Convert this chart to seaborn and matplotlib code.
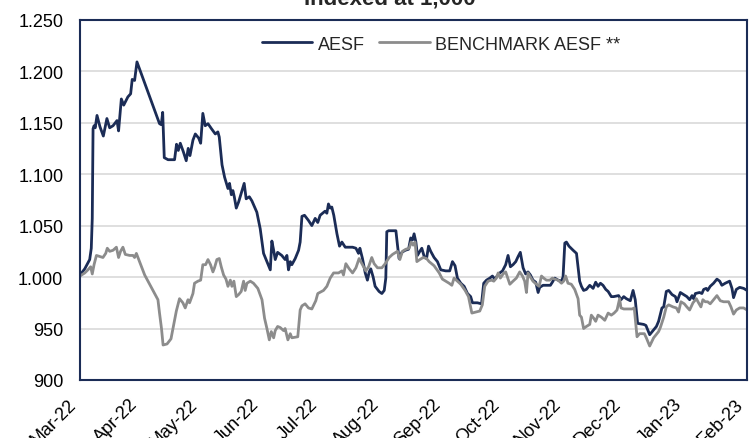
import pandas as pd
import matplotlib.pyplot as plt
import matplotlib.dates as mdates
from matplotlib.ticker import FuncFormatter
import seaborn as sns

# Data: days after start date and index level
start_date = '2022-03-01'
end_day = 337.2

aesf_day = [0, 2.4, 4.9, 5.7, 6.2, 6.6, 7.1, 7.7, 8.6, 10.1, 11.8, 13.6, 15.0, 16.7, 18.7, 19.5,
            20.9, 22.1, 24.2, 25.6, 26.4, 27.6, 28.8, 40.2, 41.1, 41.8, 42.6, 44.5, 47.8, 48.8,
            49.7, 50.7, 52.2, 53.7, 54.7, 55.6, 57.1, 58.3, 60.0, 61.0, 62.1, 63.3, 64.7, 66.5,
            68.4, 69.7, 70.4, 71.8, 73.1, 74.8, 75.6, 76.5, 77.3, 78.0, 79.0, 80.2, 83.0, 84.0,
            85.6, 86.9, 89.4, 91.1, 92.8, 94.5, 96.2, 97.0, 97.9, 98.7, 99.9, 102.0, 103.7,
            104.6, 105.4, 106.3, 107.1, 108.8, 110.5, 111.3, 112.2, 113.5, 115.5, 117.2, 118.9,
            120.2, 121.4, 123.9, 124.8, 125.6, 126.5, 127.3, 128.3, 129.9, 131.2, 132.4, 134.1,
            137.8, 139.5, 140.8, 141.5, 142.8, 144.2, 145.3, 146.2, 147.0, 148.2, 149.2, 151.2,
            152.6, 153.8, 154.6, 155.1, 156.0, 159.7, 160.5, 161.3, 162.7, 164.4, 166.1, 167.2,
            168.1, 168.9, 169.8, 170.6, 171.8, 172.8, 174.0, 175.2, 176.2, 177.3, 179.0, 180.7,
            182.4, 184.9, 186.9, 188.3, 189.6, 190.8, 192.5, 194.2, 195.9, 197.5, 198.4, 200.9,
            203.0, 204.1, 205.5, 207.2, 208.5, 209.7, 210.9, 212.2, 213.6, 215.2, 216.4, 217.6,
            218.9, 220.3, 221.5, 222.6, 224.0, 225.3, 226.5, 227.7, 229.0, 230.4, 231.6, 232.4,
            234.1, 237.8, 238.8, 240.0, 241.7, 243.4, 244.2, 245.1, 245.9, 247.2, 249.3, 251.0,
            252.6, 253.5, 254.6, 256.0, 257.7, 259.4, 260.7, 261.9, 263.1, 264.4, 265.8, 267.0,
            268.6, 269.8, 272.3, 273.5, 274.9, 276.2, 278.2, 279.6, 280.7, 281.9, 285.0, 286.1,
            288.0, 289.7, 291.4, 292.5, 294.2, 295.1, 296.4, 297.6, 299.3, 301.0, 301.8, 303.5,
            305.2, 306.8, 308.2, 309.4, 310.2, 311.1, 313.2, 314.4, 315.3, 316.6, 317.3, 318.6,
            320.3, 322.0, 323.4, 324.5, 326.2, 328.4, 329.6, 330.4, 331.8, 333.5, 335.5, 337.2]
aesf_value = [1002, 1008, 1017, 1028, 1057, 1144, 1147, 1145, 1157, 1146, 1137, 1154, 1145, 1147,
              1152, 1142, 1173, 1167, 1175, 1178, 1192, 1191, 1209, 1149, 1148, 1160, 1116, 1114,
              1114, 1129, 1123, 1130, 1122, 1113, 1125, 1118, 1133, 1139, 1135, 1130, 1159, 1147,
              1149, 1144, 1139, 1141, 1136, 1109, 1097, 1086, 1091, 1080, 1084, 1078, 1067, 1073,
              1091, 1076, 1078, 1074, 1063, 1047, 1023, 1015, 1007, 1035, 1026, 1017, 1024, 1021,
              1017, 1021, 1007, 1015, 1012, 1018, 1026, 1034, 1059, 1060, 1055, 1050, 1057, 1053,
              1060, 1064, 1062, 1071, 1067, 1068, 1060, 1042, 1030, 1034, 1029, 1029, 1028, 1023,
              1028, 1018, 1004, 997, 1005, 1008, 1000, 991, 986, 984, 987, 999, 1044, 1045, 1045,
              1031, 1018, 1024, 1026, 1027, 1038, 1036, 1042, 1034, 1021, 1025, 1028, 1020, 1018,
              1030, 1025, 1019, 1015, 1007, 1006, 1006, 1015, 1011, 999, 994, 991, 984, 981, 975,
              975, 974, 994, 997, 999, 1001, 998, 1001, 1004, 1006, 1012, 1021, 1010, 1012, 1015,
              1020, 1024, 1009, 1003, 1005, 1002, 997, 995, 985, 990, 992, 992, 995, 999, 997,
              996, 1000, 1033, 1034, 1030, 1026, 1023, 996, 991, 987, 988, 992, 989, 995, 991,
              994, 992, 988, 986, 981, 981, 982, 978, 981, 979, 977, 987, 978, 955, 954, 953,
              944, 948, 952, 957, 970, 971, 986, 987, 983, 981, 976, 985, 983, 981, 978, 982,
              979, 984, 985, 984, 988, 989, 987, 991, 994, 998, 996, 992, 994, 996, 989, 980,
              988, 990, 989, 987]

bench_day = [0, 2.4, 4.0, 5.4, 6.2, 7.1, 8.3, 9.9, 11.6, 13.0, 13.8, 15.0, 16.7, 18.4, 19.5, 20.5,
             21.7, 22.9, 25.1, 26.8, 27.6, 28.5, 29.3, 32.7, 39.4, 40.2, 41.2, 42.0, 44.0, 46.0,
             47.5, 48.7, 50.3, 52.0, 53.2, 54.6, 55.4, 57.1, 57.9, 59.6, 61.0, 62.1, 63.5, 64.7,
             66.0, 67.2, 68.0, 69.2, 70.4, 71.4, 72.6, 73.8, 74.8, 76.0, 76.8, 77.8, 79.0, 80.2,
             81.5, 82.7, 83.5, 84.4, 85.2, 86.1, 87.7, 89.9, 92.0, 93.3, 94.5, 95.7, 96.7, 97.9,
             98.7, 99.9, 101.2, 102.9, 103.7, 105.1, 106.3, 107.1, 110.1, 111.3, 112.2, 113.8,
             115.5, 117.2, 119.2, 120.2, 123.1, 124.8, 126.5, 128.2, 130.7, 132.4, 133.2, 134.4,
             136.1, 137.8, 139.5, 141.1, 142.8, 144.5, 145.9, 147.5, 148.7, 150.4, 152.6, 154.3,
             156.3, 158.0, 160.5, 161.7, 163.0, 164.7, 166.4, 167.4, 168.4, 169.4, 170.3, 171.8,
             173.5, 175.2, 176.5, 179.0, 181.6, 183.2, 184.9, 186.6, 188.0, 189.1, 190.8, 192.5,
             194.7, 196.4, 198.1, 200.1, 202.1, 203.4, 204.6, 206.3, 208.0, 209.2, 210.5, 211.4,
             212.5, 213.9, 215.2, 217.3, 218.9, 220.6, 222.3, 223.7, 224.8, 225.7, 226.5, 227.7,
             229.0, 230.7, 232.1, 233.3, 234.4, 235.8, 237.5, 238.8, 240.0, 241.7, 243.4, 244.5,
             245.5, 246.7, 248.4, 250.1, 251.8, 252.6, 253.5, 254.6, 256.0, 257.7, 258.5, 259.7,
             260.7, 261.9, 263.6, 265.3, 267.0, 268.6, 270.0, 271.5, 272.8, 273.5, 274.9, 277.4,
             279.1, 280.2, 281.6, 282.9, 285.3, 286.3, 288.0, 290.0, 292.5, 293.4, 295.1, 296.4,
             297.6, 299.8, 301.5, 302.6, 303.8, 305.5, 306.8, 308.2, 309.9, 311.6, 312.7, 313.9,
             314.9, 316.1, 317.3, 318.6, 320.3, 322.0, 323.7, 325.4, 327.9, 329.1, 330.4, 331.8,
             333.5, 335.5, 337.2]
bench_value = [1001, 1004, 1007, 1010, 1003, 1012, 1021, 1020, 1019, 1023, 1028, 1025, 1026, 1029,
               1019, 1025, 1029, 1022, 1021, 1021, 1019, 1023, 1019, 1002, 978, 965, 950, 934,
               935, 940, 955, 967, 979, 975, 970, 978, 975, 984, 994, 996, 997, 1012, 1012, 1017,
               1012, 1005, 1009, 1017, 1018, 1010, 1002, 998, 991, 997, 991, 996, 981, 983, 986,
               996, 987, 994, 995, 996, 994, 989, 978, 960, 950, 939, 947, 941, 948, 952, 951,
               948, 950, 939, 945, 941, 942, 968, 972, 974, 970, 969, 977, 984, 987, 991, 999,
               1004, 1004, 1006, 1002, 1013, 1008, 1004, 1009, 1018, 1012, 1006, 1010, 1019, 1013,
               1009, 1009, 1013, 1019, 1022, 1025, 1017, 1025, 1027, 1028, 1034, 1031, 1034, 1015,
               1017, 1019, 1018, 1015, 1011, 1004, 998, 996, 994, 992, 999, 996, 993, 987, 981,
               965, 966, 967, 973, 991, 996, 997, 996, 999, 1004, 999, 1003, 1005, 993, 996, 999,
               1005, 1001, 996, 985, 1004, 1000, 996, 993, 991, 1001, 999, 997, 997, 999, 998,
               997, 994, 996, 1001, 994, 993, 988, 979, 963, 961, 950, 952, 954, 963, 960, 957,
               963, 961, 958, 965, 963, 965, 968, 979, 970, 969, 969, 969, 970, 942, 945, 945,
               941, 933, 941, 947, 951, 961, 971, 973, 971, 970, 966, 976, 974, 971, 968, 975,
               979, 975, 971, 978, 976, 976, 974, 978, 982, 977, 976, 976, 971, 964, 968, 970,
               970, 968]

series_names = ['AESF', 'BENCHMARK AESF **']
series_colors = ['#1B2C56', '#8C8C8C']
y_ticks = [900, 950, 1000, 1050, 1100, 1150, 1200, 1250]

# Long table for seaborn
df = pd.concat([
    pd.DataFrame({'day': aesf_day, 'value': aesf_value, 'series': series_names[0]}),
    pd.DataFrame({'day': bench_day, 'value': bench_value, 'series': series_names[1]}),
], ignore_index=True)
df['date'] = pd.Timestamp(start_date) + pd.to_timedelta(df['day'], unit='D')

sns.set_theme(style='white')
plt.rcParams['font.family'] = ['Liberation Sans', 'DejaVu Sans']

fig = plt.figure(figsize=(7.56, 4.39), dpi=100)
ax = fig.add_axes([80 / 756, 1 - 381 / 439, 667 / 756, 360.3 / 439])

sns.lineplot(data=df, x='date', y='value', hue='series', hue_order=series_names,
             palette=series_colors, linewidth=2, estimator=None, sort=True, ax=ax)

# Axes range and ticks
ax.set_xlim(pd.Timestamp(start_date), pd.Timestamp(start_date) + pd.Timedelta(days=end_day))
ax.set_ylim(900, 1250)
ax.set_yticks(y_ticks)
ax.yaxis.set_major_formatter(FuncFormatter(lambda v, p: f'{v:,.0f}'.replace(',', '.')))
ax.xaxis.set_major_locator(mdates.MonthLocator())
ax.xaxis.set_major_formatter(mdates.DateFormatter('%b-%y'))
ax.tick_params(axis='both', length=0, labelsize=13, colors='#000000')
ax.tick_params(axis='y', pad=12)
ax.tick_params(axis='x', pad=11)
for lbl in ax.get_xticklabels():
    lbl.set_rotation(45)
    lbl.set_ha('right')
ax.set_xlabel('')
ax.set_ylabel('')

# Grid and frame
ax.yaxis.grid(True, color='#D9D9D9', linewidth=1.2)
ax.set_axisbelow(True)
for side in ['left', 'right', 'top', 'bottom']:
    ax.spines[side].set_visible(True)
    ax.spines[side].set_color('#1B2C56')
    ax.spines[side].set_linewidth(1.5)

# Legend without title, top centre
old = ax.get_legend()
handles = old.legend_handles
labels = [t.get_text() for t in old.get_texts()]
old.remove()
ax.legend(handles, labels, loc='center', bbox_to_anchor=(441 / 756, 1 - 45 / 439),
          bbox_transform=fig.transFigure, ncol=2, frameon=False, fontsize=13,
          handlelength=2.8, handletextpad=0.3, columnspacing=0.8)

# Title, cut at the top like the original
fig.text(390 / 756, 1 - 4 / 439, 'Indexed at 1,000', ha='center', va='baseline',
         fontsize=16, fontweight='bold')

fig.savefig('out.png', dpi=100)
